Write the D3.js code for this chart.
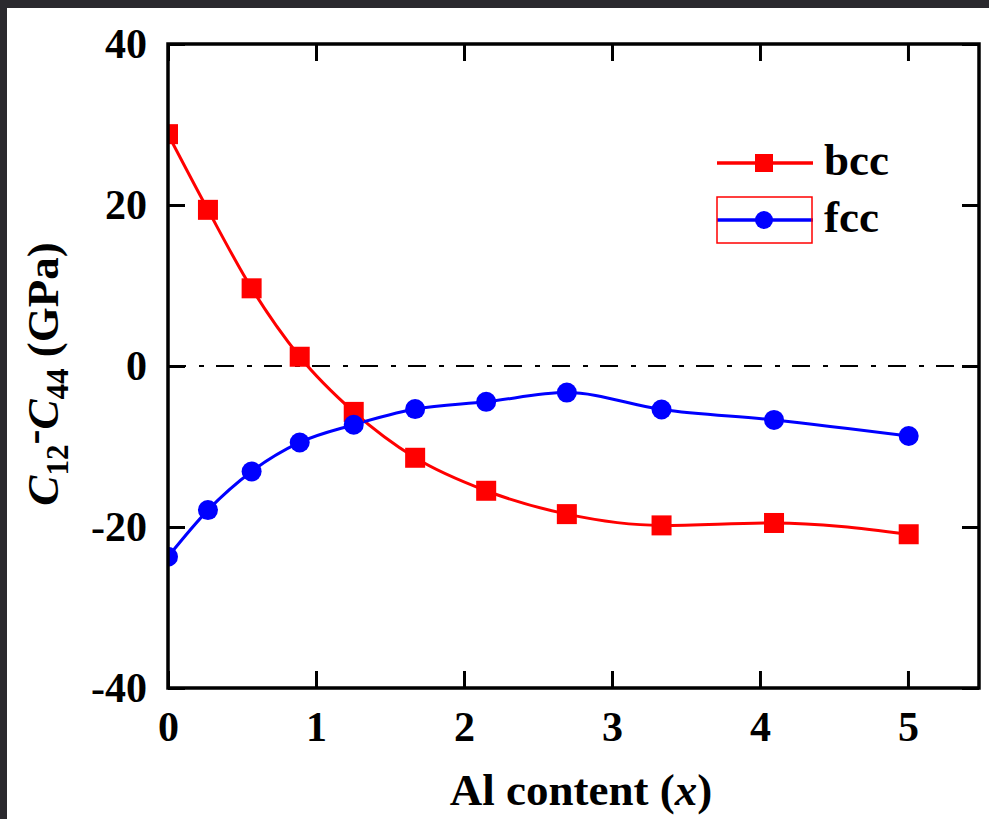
<!DOCTYPE html>
<html>
<head>
<meta charset="utf-8">
<script src="https://cdn.jsdelivr.net/npm/d3@7"></script>
<style>
  body { margin: 0; background: #fff; }
  svg { display: block; }
  text { font-family: "Liberation Serif", "Times New Roman", serif; font-weight: bold; fill: #000; }
</style>
</head>
<body>
<svg id="chart"></svg>
<script>
// Al content (x) for each computed composition
const alContent = [0, 0.27, 0.565, 0.89, 1.255, 1.67, 2.15, 2.695, 3.335, 4.095, 5.005];
// C12 - C44 (GPa)
const bccValues = [28.8, 19.4, 9.65, 1.15, -5.7, -11.4, -15.5, -18.4, -19.8, -19.5, -20.9];
const fccValues = [-23.7, -17.9, -13.1, -9.5, -7.3, -5.35, -4.45, -3.3, -5.4, -6.7, -8.7];
const xTicks = [0, 1, 2, 3, 4, 5];
const yTicks = [-40, -20, 0, 20, 40];

const W = 989, H = 819;
const margin = {top: 44, right: 10, bottom: 131, left: 168};
const plotL = margin.left, plotR = W - margin.right, plotT = margin.top, plotB = H - margin.bottom;

const svg = d3.select('#chart').attr('width', W).attr('height', H);

// dark frame of the screenshot
svg.append('rect').attr('x', 0).attr('y', 0).attr('width', W).attr('height', 8).attr('fill', '#2a292e');
svg.append('rect').attr('x', 0).attr('y', 0).attr('width', 7).attr('height', H).attr('fill', '#2a292e');

const xScale = d3.scaleLinear().domain([0, 5.48]).range([plotL, plotR]);
const yScale = d3.scaleLinear().domain([-40, 40]).range([plotB, plotT]);

svg.append('clipPath').attr('id', 'plot-clip')
  .append('rect')
    .attr('x', plotL).attr('y', plotT)
    .attr('width', plotR - plotL).attr('height', plotB - plotT);

// zero reference line
svg.append('line')
  .attr('x1', plotL).attr('x2', plotR)
  .attr('y1', yScale(0)).attr('y2', yScale(0))
  .attr('stroke', '#000')
  .attr('stroke-width', 2)
  .attr('stroke-dasharray', '18,13,5,12');

const series = [
  {name: 'bcc', values: bccValues, color: '#ff0000', shape: 'square'},
  {name: 'fcc', values: fccValues, color: '#0000ff', shape: 'circle'}
];

const line = d3.line()
  .x((d, i) => xScale(alContent[i]))
  .y(d => yScale(d))
  .curve(d3.curveMonotoneX);

const plot = svg.append('g').attr('clip-path', 'url(#plot-clip)');

series.forEach(s => {
  plot.append('path')
    .datum(s.values)
    .attr('d', line)
    .attr('fill', 'none')
    .attr('stroke', s.color)
    .attr('stroke-width', 3);
});

series.forEach(s => {
  const g = plot.append('g').attr('fill', s.color);
  if (s.shape === 'square') {
    g.selectAll('rect')
      .data(s.values)
      .enter().append('rect')
        .attr('x', (d, i) => xScale(alContent[i]) - 10)
        .attr('y', d => yScale(d) - 10)
        .attr('width', 20)
        .attr('height', 20);
  } else {
    g.selectAll('circle')
      .data(s.values)
      .enter().append('circle')
        .attr('cx', (d, i) => xScale(alContent[i]))
        .attr('cy', d => yScale(d))
        .attr('r', 10);
  }
});

// axes, ticks pointing inward
const styleAxis = g => {
  g.select('.domain').remove();
  g.selectAll('.tick line').attr('stroke', '#000').attr('stroke-width', 3);
  g.selectAll('.tick text').style('font-size', '42px');
  g.attr('font-family', null).attr('font-size', null);
};
const plain = d => String(d);

svg.append('g')
  .attr('transform', 'translate(0,' + plotB + ')')
  .call(d3.axisBottom(xScale).tickValues(xTicks).tickFormat(plain)
    .tickSizeInner(-17).tickSizeOuter(0).tickPadding(23))
  .call(styleAxis);

svg.append('g')
  .attr('transform', 'translate(' + plotL + ',0)')
  .call(d3.axisLeft(yScale).tickValues(yTicks).tickFormat(plain)
    .tickSizeInner(-17).tickSizeOuter(0).tickPadding(21))
  .call(styleAxis);

svg.append('g')
  .attr('transform', 'translate(0,' + plotT + ')')
  .call(d3.axisTop(xScale).tickValues(xTicks).tickSizeInner(-17).tickSizeOuter(0).tickFormat(''))
  .call(styleAxis);

svg.append('g')
  .attr('transform', 'translate(' + plotR + ',0)')
  .call(d3.axisRight(yScale).tickValues(yTicks).tickSizeInner(-17).tickSizeOuter(0).tickFormat(''))
  .call(styleAxis);

svg.append('rect')
  .attr('x', plotL).attr('y', plotT)
  .attr('width', plotR - plotL).attr('height', plotB - plotT)
  .attr('fill', 'none')
  .attr('stroke', '#000')
  .attr('stroke-width', 3.5);

// x axis title
const xTitle = svg.append('text')
  .attr('x', 581).attr('y', 805)
  .attr('text-anchor', 'middle')
  .style('font-size', '45px');
xTitle.append('tspan').text('Al content (');
xTitle.append('tspan').style('font-style', 'italic').text('x');
xTitle.append('tspan').text(')');

// y axis title
const yTitle = svg.append('text')
  .attr('transform', 'translate(58,374) rotate(-90)')
  .attr('text-anchor', 'middle')
  .style('font-size', '45px');
yTitle.append('tspan').style('font-style', 'italic').text('C');
yTitle.append('tspan').attr('dy', 10).style('font-size', '31px').text('12');
yTitle.append('tspan').attr('dy', -20).text('-');
yTitle.append('tspan').attr('dy', 10).style('font-style', 'italic').text('C');
yTitle.append('tspan').attr('dy', 10).style('font-size', '31px').text('44');
yTitle.append('tspan').attr('dy', -10).text(' (GPa)');

// legend
const legend = svg.append('g')
  .selectAll('g')
  .data(series)
  .enter().append('g')
    .attr('transform', (d, i) => 'translate(717,' + (163 + i * 57) + ')');

legend.append('line')
  .attr('x1', 0).attr('x2', 96)
  .attr('stroke', d => d.color)
  .attr('stroke-width', 3.5);

legend.filter(d => d.shape === 'square').append('rect')
  .attr('x', 38).attr('y', -9).attr('width', 18).attr('height', 18)
  .attr('fill', d => d.color);

legend.filter(d => d.shape === 'circle').append('circle')
  .attr('cx', 47).attr('r', 9)
  .attr('fill', d => d.color);

legend.filter(d => d.name === 'fcc').append('rect')
  .attr('x', 0).attr('y', -23).attr('width', 95).attr('height', 46)
  .attr('fill', 'none')
  .attr('stroke', '#ff0000')
  .attr('stroke-width', 1.5);

legend.append('text')
  .attr('x', 107).attr('y', 12)
  .style('font-size', '45px')
  .text(d => d.name);
</script>
</body>
</html>
